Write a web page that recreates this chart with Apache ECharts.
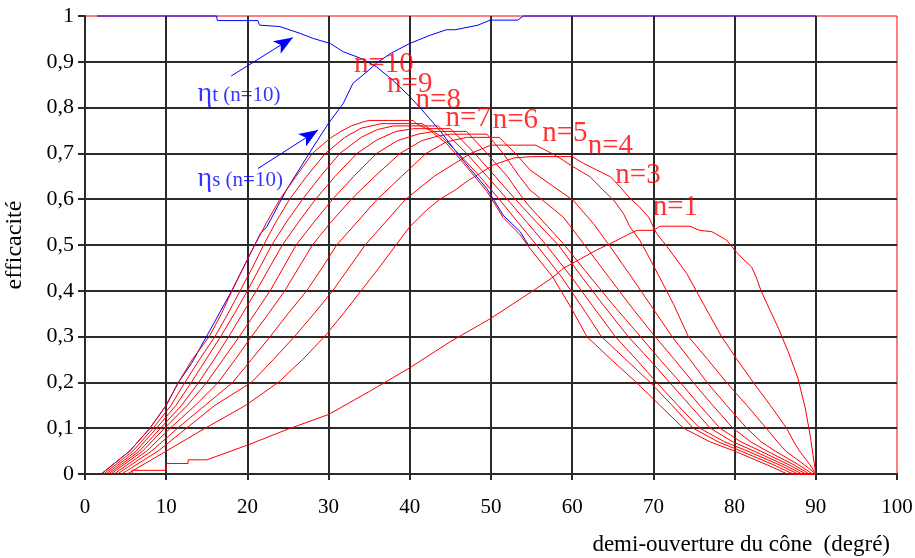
<!DOCTYPE html>
<html><head><meta charset="utf-8">
<script src="https://cdn.jsdelivr.net/npm/echarts@6/dist/echarts.min.js"></script>
<style>html,body{margin:0;padding:0;background:#fff}#c{width:915px;height:558px}</style>
</head><body><div id="c"></div>
<script>
// ---- tick labels ----
const xTickLabels = ['0','10','20','30','40','50','60','70','80','90','100'];
const yTickLabels = ['0','0,1','0,2','0,3','0,4','0,5','0,6','0,7','0,8','0,9','1'];

// ---- red curves: efficiency for n = 1..10, [angle, efficiency] ----
const n1 = [[5.8,0],[5.8,0.008],[10,0.008],[10,0.023],[12.7,0.023],[12.7,0.031],[15,0.031],[20,0.063],[25,0.098],[30,0.13],[35,0.18],[40,0.232],[45,0.289],[50,0.34],[55,0.398],[57.5,0.428],[58.9,0.449],[63,0.489],[64.7,0.503],[67.1,0.525],[68,0.532],[70,0.532],[70.8,0.541],[74.5,0.541],[75.7,0.532],[77.2,0.529],[79,0.511],[80,0.489],[81,0.47],[82.1,0.452],[82.7,0.428],[83.3,0.398],[85.4,0.318],[86.6,0.267],[87.8,0.209],[88.7,0.144],[89.3,0.085],[90,0]];
const n2 = [[5.2,0],[10,0.05],[14.8,0.1],[19.8,0.15],[23.8,0.2],[26.8,0.25],[29.5,0.3],[31.8,0.35],[34,0.4],[36.2,0.45],[38.3,0.5],[40,0.54],[42,0.575],[43.7,0.6],[45.6,0.62],[47.2,0.641],[48.6,0.656],[50.3,0.675],[52.8,0.69],[55,0.693],[60,0.693],[61.4,0.678],[63,0.664],[64.7,0.649],[65.9,0.627],[67.1,0.602],[68.3,0.583],[69.4,0.561],[70.4,0.525],[71.7,0.496],[72.9,0.467],[74.1,0.438],[76.2,0.37],[78.4,0.3],[80.3,0.25],[82.3,0.2],[84.4,0.15],[86.4,0.1],[87.3,0.07],[88,0.05],[89.3,0.02],[90,0]];
const n3 = [[4.5,0],[9,0.05],[12.5,0.1],[16,0.15],[20.5,0.2],[23.2,0.25],[25.8,0.3],[28.2,0.35],[30.5,0.4],[32.5,0.45],[34.5,0.5],[37,0.55],[39.5,0.6],[43,0.65],[47.5,0.7],[50,0.718],[55.5,0.718],[57.5,0.7],[58.9,0.685],[60.1,0.671],[62.2,0.649],[63.8,0.62],[65.1,0.598],[66.3,0.569],[67.1,0.54],[68.3,0.511],[69.2,0.482],[70.6,0.435],[72.5,0.37],[74.3,0.3],[76.7,0.25],[79,0.2],[81.5,0.15],[83.9,0.1],[85.3,0.07],[86.3,0.05],[88.6,0.02],[90,0]];
const n4 = [[4,0],[8.2,0.05],[11.4,0.1],[14.8,0.15],[18.2,0.2],[20.5,0.25],[22.8,0.3],[25,0.35],[27.3,0.4],[29.2,0.45],[31,0.5],[33.5,0.55],[36,0.6],[39,0.65],[42,0.7],[44.5,0.725],[47,0.735],[51,0.735],[53,0.7],[54.8,0.664],[57.5,0.63],[60.1,0.598],[62.6,0.547],[64.7,0.496],[67.3,0.43],[70,0.36],[72.3,0.3],[74.5,0.25],[76.6,0.2],[79,0.15],[81.5,0.1],[83.3,0.07],[85,0.05],[87.9,0.02],[89.6,0],[90,0]];
const n5 = [[3.6,0],[7.6,0.05],[10.5,0.1],[13.6,0.15],[16.4,0.2],[18.5,0.25],[20.5,0.3],[22.6,0.35],[24.6,0.4],[26.3,0.45],[28,0.5],[30.3,0.55],[32.8,0.6],[35.7,0.65],[38.8,0.7],[41.5,0.728],[43.5,0.738],[45,0.742],[49.5,0.742],[51.5,0.7],[53.5,0.65],[54.8,0.62],[56.2,0.6],[58.9,0.561],[61.4,0.503],[64.5,0.43],[67.5,0.36],[70.2,0.3],[72.6,0.25],[74.9,0.2],[77.3,0.15],[79.8,0.1],[82,0.07],[84,0.05],[87.3,0.02],[89.2,0],[90,0]];
const n6 = [[3.2,0],[7.1,0.05],[9.8,0.1],[12.6,0.15],[15,0.2],[17,0.25],[19,0.3],[20.9,0.35],[22.8,0.4],[24.4,0.45],[26,0.5],[28.2,0.55],[30.5,0.6],[33.1,0.65],[35.9,0.7],[38.5,0.728],[41,0.742],[43,0.748],[47,0.748],[49.5,0.7],[52,0.65],[54,0.6],[54.8,0.583],[57,0.54],[58.9,0.503],[62,0.435],[65,0.37],[68.4,0.3],[70.8,0.25],[73.3,0.2],[75.7,0.15],[78.2,0.1],[80.8,0.07],[83.2,0.05],[86.7,0.02],[88.8,0],[90,0]];
const n7 = [[2.9,0],[6.7,0.05],[9.3,0.1],[11.9,0.15],[14,0.2],[15.9,0.25],[17.7,0.3],[19.4,0.35],[21.1,0.4],[22.7,0.45],[24.3,0.5],[26.3,0.55],[28.4,0.6],[30.8,0.65],[33.5,0.7],[36,0.73],[38.3,0.748],[40.5,0.754],[45,0.754],[48,0.7],[50.5,0.65],[53,0.6],[55.6,0.55],[58.3,0.5],[61.2,0.43],[64,0.365],[66.9,0.3],[69.5,0.25],[72,0.2],[74.5,0.15],[77,0.1],[79.8,0.07],[82.4,0.05],[86.1,0.02],[88.3,0],[90,0]];
const n8 = [[2.6,0],[6.3,0.05],[8.8,0.1],[11.2,0.15],[13.1,0.2],[14.9,0.25],[16.7,0.3],[18.4,0.35],[20,0.4],[21.5,0.45],[23,0.5],[24.8,0.55],[26.8,0.6],[29,0.65],[31.4,0.7],[34,0.735],[36,0.752],[38,0.76],[43.5,0.76],[47,0.7],[49.5,0.65],[52,0.6],[54.4,0.55],[56.8,0.5],[59.9,0.43],[62.6,0.365],[65.3,0.3],[67.9,0.25],[70.4,0.2],[73,0.15],[75.7,0.1],[78.8,0.07],[81.6,0.05],[85.5,0.02],[87.8,0],[90,0]];
const n9 = [[2.3,0],[5.9,0.05],[8.4,0.1],[10.6,0.15],[12.3,0.2],[14.1,0.25],[16,0.3],[17.6,0.35],[19.1,0.4],[20.6,0.45],[22,0.5],[23.5,0.55],[25.2,0.6],[27.3,0.65],[29.6,0.7],[32,0.735],[34,0.755],[36.5,0.765],[41.5,0.765],[44,0.735],[46,0.7],[48.6,0.65],[51,0.6],[53.3,0.55],[55.6,0.5],[58.7,0.43],[61.2,0.365],[63.6,0.3],[66.6,0.25],[69.6,0.2],[72.3,0.15],[74.9,0.1],[78,0.07],[80.8,0.05],[84.8,0.02],[87.2,0],[90,0]];
const n10 = [[2,0],[5.5,0.05],[8,0.1],[10,0.15],[11.5,0.2],[13.2,0.25],[15.3,0.3],[16.8,0.35],[18.1,0.4],[19.5,0.45],[20.9,0.5],[22.4,0.55],[24,0.6],[26,0.65],[28,0.7],[30.2,0.733],[31.4,0.747],[32.8,0.76],[34.3,0.769],[35,0.772],[40.4,0.772],[40.8,0.765],[42.5,0.75],[44.5,0.722],[45.6,0.7],[47.4,0.662],[49.5,0.617],[51.5,0.56],[53.6,0.522],[54.6,0.497],[57.6,0.43],[59.8,0.365],[61.8,0.3],[64.8,0.25],[67.9,0.2],[70.8,0.15],[73.7,0.1],[77,0.07],[80,0.05],[84,0.02],[86.5,0],[90,0]];

// ---- blue curves (n = 10) ----
const etaT = [[1.5,1],[16.2,1],[16.3,0.99],[21.3,0.99],[21.5,0.98],[24,0.977],[26.5,0.962],[28.1,0.951],[30.2,0.94],[31.8,0.922],[33.9,0.908],[35.9,0.889],[37.9,0.86],[40,0.824],[41.5,0.795],[43.7,0.75],[45.6,0.706],[47.4,0.667],[49.5,0.623],[51.5,0.565],[53.6,0.529],[54.6,0.5]];
const etaS = [[2,0],[5.5,0.05],[8,0.1],[10,0.15],[11.5,0.2],[13.1,0.241],[15.4,0.314],[18.1,0.401],[19.9,0.465],[21.6,0.525],[22.4,0.54],[24.8,0.62],[28.1,0.714],[30,0.766],[31.8,0.809],[33,0.853],[34.7,0.878],[35.9,0.897],[37.6,0.918],[40,0.94],[42.5,0.958],[44.5,0.97],[45.6,0.97],[48.4,0.98],[49.9,0.991],[53.3,0.991],[54,1],[90,1]];

// ---- annotations (text and anchor in data units) ----
const curveLabels = [[36.8,0.895,'n=10'],[40.0,0.851,'n=9'],[43.5,0.816,'n=8'],[47.2,0.777,'n=7'],[53.0,0.773,'n=6'],[59.1,0.744,'n=5'],[64.7,0.716,'n=4'],[68.1,0.653,'n=3'],[72.7,0.583,'n=1']];
const etaLabels = [[13.8,0.830,'t (n=10)'],[13.8,0.644,'s (n=10)']];
const arrows = [[[18.0,0.869],[25.6,0.953]],[[21.3,0.667],[28.7,0.751]]];

const reds = [n1,n2,n3,n4,n5,n6,n7,n8,n9,n10];
const FONT = 'Liberation Serif';
const RED = '#ff0000', BLUE = '#0000ff', GRID = '#2a2a2a';

const series = [];
series.push({type:'line', name:'etaT', data:etaT, showSymbol:false, symbol:'none', clip:false,
  lineStyle:{color:BLUE,width:1}, z:3, silent:true,
  markLine:{silent:true, symbol:['none','arrow'], symbolSize:[11,19], symbolOffset:0,
    lineStyle:{color:BLUE,width:1,type:'solid'}, itemStyle:{color:BLUE},
    label:{show:false}, emphasis:{disabled:true},
    data: arrows.map(a => [{coord:a[0]},{coord:a[1]}])}});
series.push({type:'line', name:'etaS', data:etaS, showSymbol:false, symbol:'none', clip:false,
  lineStyle:{color:BLUE,width:1}, z:3, silent:true});
reds.forEach((d,i) => series.push({type:'line', name:'n='+(i+1), data:d, showSymbol:false, symbol:'none',
  lineStyle:{color:RED,width:1}, z:4, silent:true, clip:false}));
series.push({type:'scatter', data:curveLabels, symbolSize:1, itemStyle:{color:'rgba(0,0,0,0)'}, z:6, silent:true,
  label:{show:true, position:'inside', formatter:p=>p.data[2], color:RED, fontSize:29, fontFamily:FONT}});
series.push({type:'scatter', data:etaLabels, symbolSize:1, itemStyle:{color:'rgba(0,0,0,0)'}, z:6, silent:true,
  label:{show:true, position:'right', distance:0, formatter:p=>'{e|η}{s|'+p.data[2]+'}',
    rich:{e:{fontSize:28, fontFamily:FONT, color:BLUE}, s:{fontSize:21, fontFamily:FONT, color:BLUE, padding:[0,0,-3,0]}}}});

const chart = echarts.init(document.getElementById('c'), null, {renderer:'canvas'});
chart.setOption({
  animation:false,
  backgroundColor:'#fff',
  grid:{left:85, right:18, top:16, bottom:84, show:true, borderColor:RED, borderWidth:1, backgroundColor:'transparent', containLabel:false, outerBoundsMode:'none'},
  xAxis:{type:'value', min:0, max:100, interval:10,
    name:'demi-ouverture du cône  (degré)', nameLocation:'end', nameGap:-7,
    nameTextStyle:{fontFamily:FONT, fontSize:23, color:'#000', align:'right', verticalAlign:'top', padding:[59,0,0,0]},
    axisLine:{show:true, lineStyle:{color:GRID, width:2}},
    axisTick:{show:true, inside:false, length:6, lineStyle:{color:GRID, width:2}},
    axisLabel:{fontFamily:FONT, fontSize:21, color:'#000', margin:23, formatter:(v)=>xTickLabels[Math.round(v/10)]},
    splitLine:{show:true, showMaxLine:false, lineStyle:{color:GRID, width:2}}},
  yAxis:{type:'value', min:0, max:1, interval:0.1,
    name:'efficacité', nameLocation:'middle', nameGap:58,
    nameTextStyle:{fontFamily:FONT, fontSize:24, color:'#000'},
    axisLine:{show:true, lineStyle:{color:GRID, width:2}},
    axisTick:{show:true, inside:false, length:7, lineStyle:{color:GRID, width:2}},
    axisLabel:{fontFamily:FONT, fontSize:22, color:'#000', margin:11, formatter:(v)=>yTickLabels[Math.round(v*10)]},
    splitLine:{show:true, showMaxLine:false, lineStyle:{color:GRID, width:2}}},
  series
});
</script></body></html>
